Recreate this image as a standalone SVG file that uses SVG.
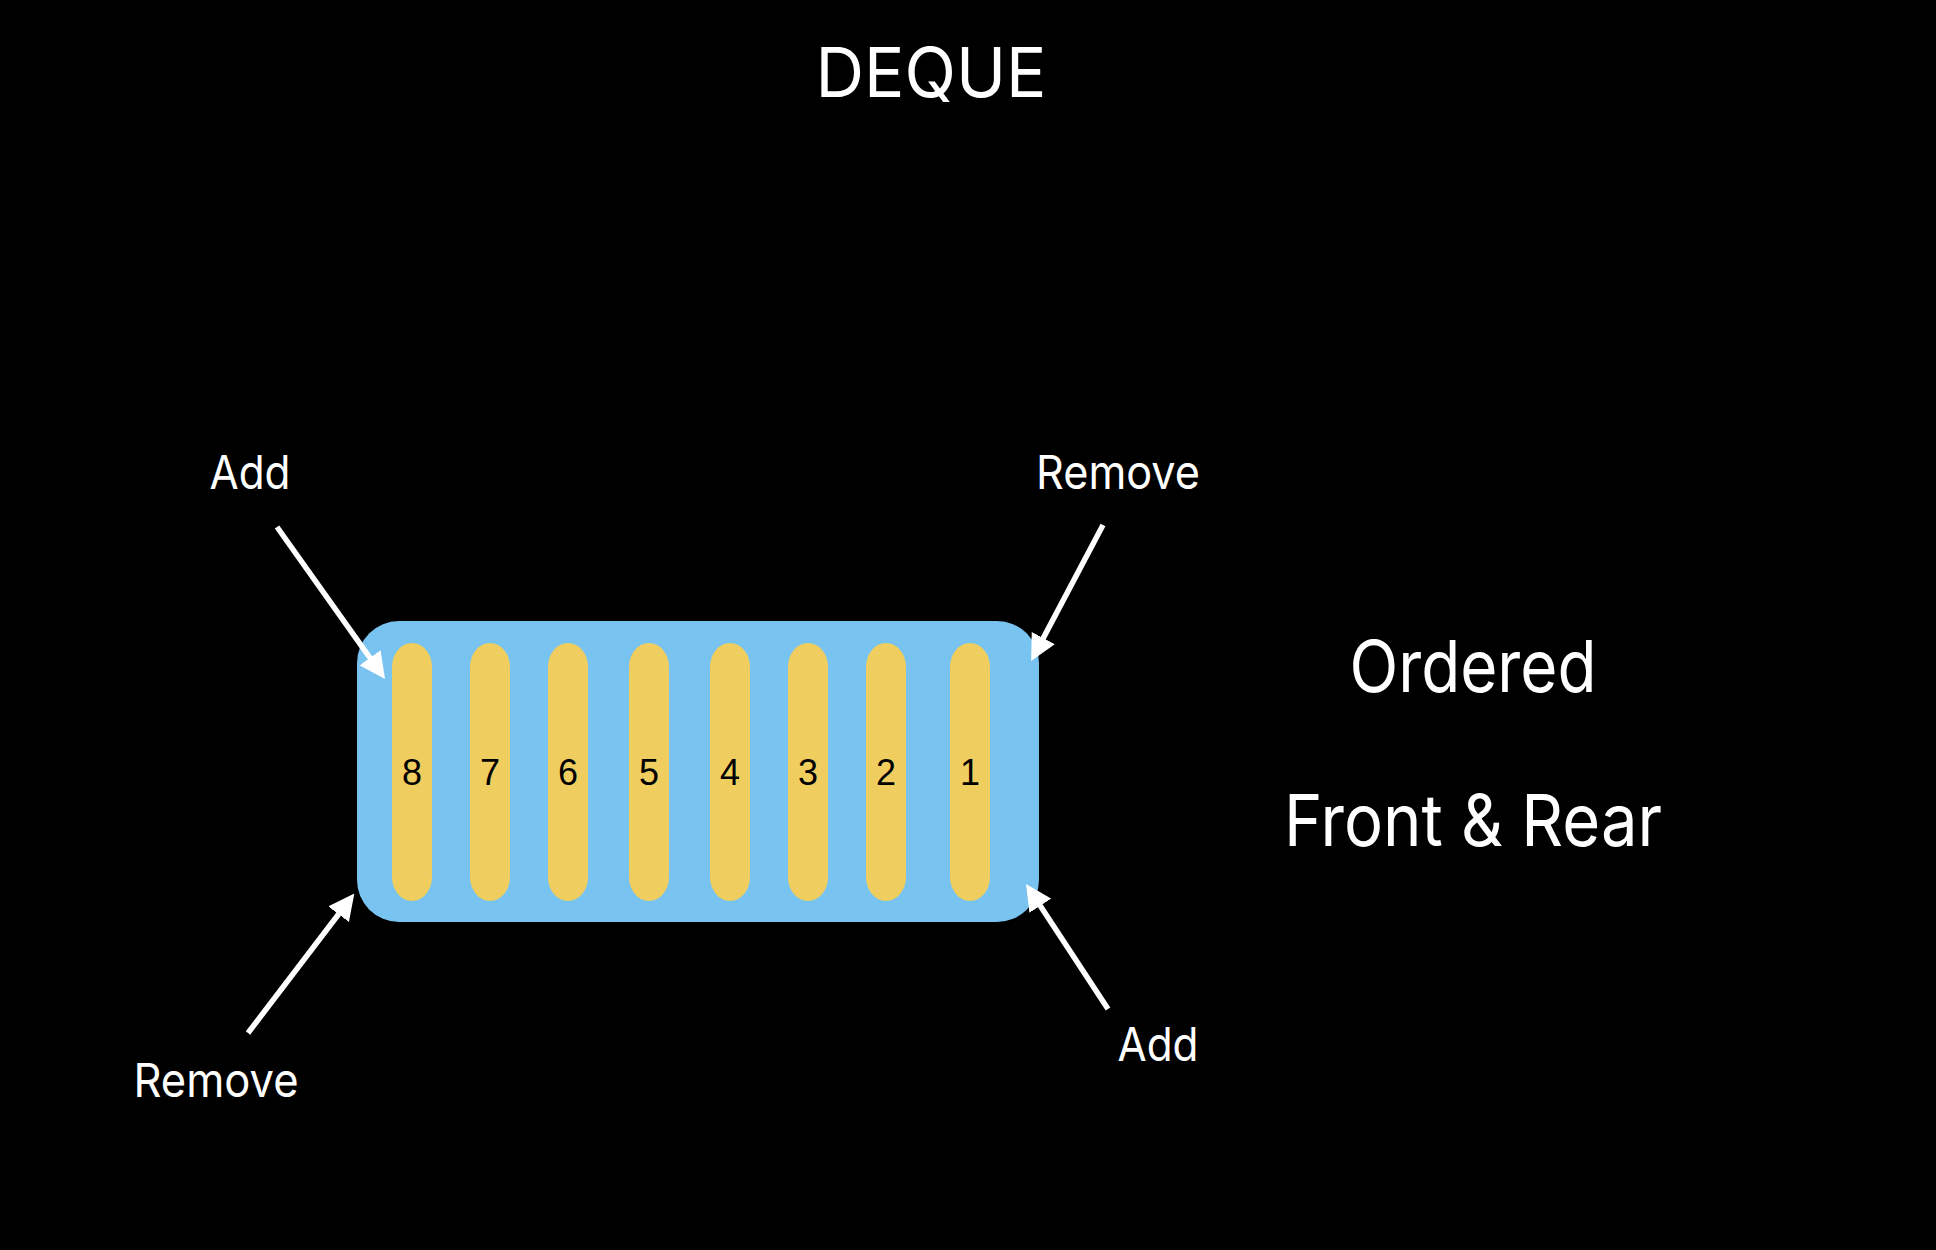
<svg xmlns="http://www.w3.org/2000/svg" width="1936" height="1250" viewBox="0 0 1936 1250">
<style>
.lbl{font-family:Inter,"Liberation Sans",sans-serif;fill:#fff;text-anchor:middle}
.num{font-family:"Liberation Sans",Arial,sans-serif;font-size:36px;fill:#000;text-anchor:middle}
.bar{fill:#EFCE5F}
.conn{stroke:#fff;stroke-width:5.5;fill:none;marker-end:url(#ah)}
</style>
<defs>
<marker id="ah" markerUnits="userSpaceOnUse" viewBox="0 0 26 26" refX="4" refY="13" markerWidth="26" markerHeight="26" orient="auto">
<path d="M0,0 L26,13 L0,26 z" fill="#fff"/>
</marker>
</defs>
<rect width="1936" height="1250" fill="#000"/>
<text class="lbl" x="931" y="97" font-size="69" textLength="231" lengthAdjust="spacingAndGlyphs">DEQUE</text>
<g id="deque">
<rect x="357" y="621" width="682" height="301" rx="42" ry="42" fill="#79C3F0"/>
</g>
<g id="item8"><rect class="bar" x="392" y="643" width="40" height="258" rx="20" ry="24"/><text class="num" x="412" y="785">8</text></g>
<g id="item7"><rect class="bar" x="470" y="643" width="40" height="258" rx="20" ry="24"/><text class="num" x="490" y="785">7</text></g>
<g id="item6"><rect class="bar" x="548" y="643" width="40" height="258" rx="20" ry="24"/><text class="num" x="568" y="785">6</text></g>
<g id="item5"><rect class="bar" x="629" y="643" width="40" height="258" rx="20" ry="24"/><text class="num" x="649" y="785">5</text></g>
<g id="item4"><rect class="bar" x="710" y="643" width="40" height="258" rx="20" ry="24"/><text class="num" x="730" y="785">4</text></g>
<g id="item3"><rect class="bar" x="788" y="643" width="40" height="258" rx="20" ry="24"/><text class="num" x="808" y="785">3</text></g>
<g id="item2"><rect class="bar" x="866" y="643" width="40" height="258" rx="20" ry="24"/><text class="num" x="886" y="785">2</text></g>
<g id="item1"><rect class="bar" x="950" y="643" width="40" height="258" rx="20" ry="24"/><text class="num" x="970" y="785">1</text></g>
<g id="label-add-front"><text class="lbl" x="250" y="489" font-size="47" textLength="81" lengthAdjust="spacingAndGlyphs">Add</text></g>
<g id="label-remove-rear"><text class="lbl" x="1118" y="489" font-size="47" textLength="164" lengthAdjust="spacingAndGlyphs">Remove</text></g>
<g id="label-remove-front"><text class="lbl" x="216" y="1097" font-size="47" textLength="165" lengthAdjust="spacingAndGlyphs">Remove</text></g>
<g id="label-add-rear"><text class="lbl" x="1158" y="1061" font-size="47" textLength="81" lengthAdjust="spacingAndGlyphs">Add</text></g>
<g id="ordered"><text class="lbl" x="1473" y="692" font-size="72" textLength="247" lengthAdjust="spacingAndGlyphs">Ordered</text></g>
<g id="front-rear"><text class="lbl" x="1473" y="846" font-size="72" textLength="378" lengthAdjust="spacingAndGlyphs">Front &amp; Rear</text></g>
<g id="connectors">
<line class="conn" x1="277" y1="527" x2="372.3" y2="661.1"/>
<line class="conn" x1="1103" y1="525" x2="1041.4" y2="641.6"/>
<line class="conn" x1="248" y1="1033" x2="341" y2="911"/>
<line class="conn" x1="1108" y1="1009" x2="1038.1" y2="902.4"/>
</g>
</svg>
